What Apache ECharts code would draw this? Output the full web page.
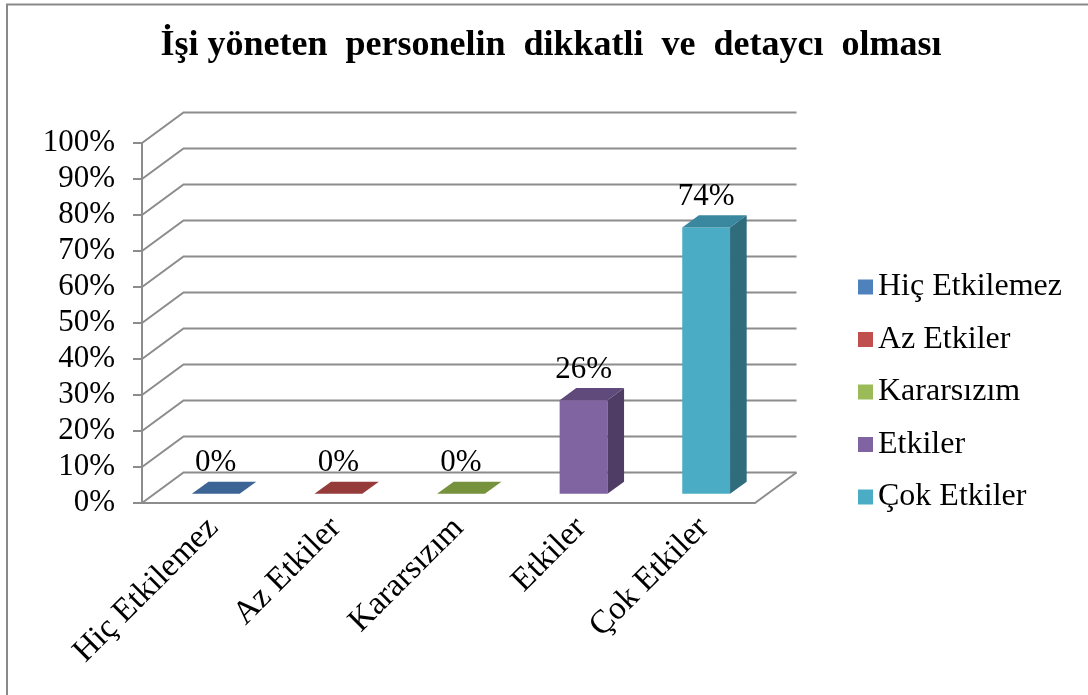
<!DOCTYPE html>
<html>
<head>
<meta charset="utf-8">
<script src="https://cdn.jsdelivr.net/npm/echarts@6/dist/echarts.min.js"></script>
<style>
html,body{margin:0;padding:0;background:#fff;}
#chart{width:1088px;height:695px;}
</style>
</head>
<body>
<div id="chart"></div>
<script>
// ---- data ----
const titleText = 'İşi yöneten  personelin  dikkatli  ve  detaycı  olması';
const categories = ['Hiç Etkilemez', 'Az Etkiler', 'Kararsızım', 'Etkiler', 'Çok Etkiler'];
const values = [0, 0, 0, 0.26, 0.74];
const yTicks = [0, 0.1, 0.2, 0.3, 0.4, 0.5, 0.6, 0.7, 0.8, 0.9, 1.0];

// ---- styles ----
const frontColors = ['#4F81BD', '#C0504D', '#9BBB59', '#8064A2', '#4BACC6'];
const topColors   = ['#3C6595', '#953B39', '#76923C', '#5F4A7B', '#3A87A0'];
const sideColors  = ['#33557E', '#7E3230', '#637B33', '#4F3D66', '#2F6C7C'];
const FONT = '"Liberation Serif", "Times New Roman", serif';
const DX = 41.5, DY = -30.5;        // floor depth vector (px)
const FRONT_F = 0.3, DEPTH_F = 0.4; // bar position inside the depth
const BAR_W = 0.39;
const GRID_COLOR = '#8c8c8c';

const chart = echarts.init(document.getElementById('chart'), null, {renderer: 'canvas'});

function pct(v) { return Math.round(v * 100) + '%'; }

const gridSeries = {
  type: 'custom',
  silent: true,
  z: 1,
  legendHoverLink: false,
  data: yTicks.map(t => [0, t]),
  renderItem: function (params, api) {
    const cs = params.coordSys;
    const t = api.value(1);
    const y = api.coord([0, t])[1];
    const x0 = cs.x, x1 = cs.x + cs.width;
    const children = [{
      type: 'polyline',
      shape: {points: [[x0, y], [x0 + DX, y + DY], [x1 + DX, y + DY]]},
      style: {stroke: GRID_COLOR, lineWidth: 2, fill: null}
    }];
    if (t === 0) {
      children.push({
        type: 'polyline',
        shape: {points: [[x1, y], [x1 + DX, y + DY]]},
        style: {stroke: GRID_COLOR, lineWidth: 2, fill: null}
      });
    }
    return {type: 'group', children: children};
  }
};

function makeBarSeries(i) {
  return {
    type: 'custom',
    name: categories[i],
    z: 3,
    itemStyle: {color: frontColors[i]},
    data: [[i, values[i]]],
    renderItem: function (params, api) {
      const idx = api.value(0), v = api.value(1);
      const base = api.coord([idx, 0]);
      const top = api.coord([idx, v]);
      const w = api.size([1, 0])[0] * BAR_W;
      const ox = DX * FRONT_F, oy = DY * FRONT_F;
      const bx = DX * DEPTH_F, by = DY * DEPTH_F;
      const xl = base[0] - w / 2 + ox, xr = base[0] + w / 2 + ox;
      const yb = base[1] + oy, yt = top[1] + oy;
      const children = [];
      if (yb - yt > 0.5) {
        children.push({type: 'polygon', shape: {points: [[xl, yt], [xr, yt], [xr, yb], [xl, yb]]},
          style: {fill: frontColors[idx]}});
        children.push({type: 'polygon', shape: {points: [[xr, yt], [xr + bx, yt + by], [xr + bx, yb + by], [xr, yb]]},
          style: {fill: sideColors[idx]}});
      }
      children.push({type: 'polygon', shape: {points: [[xl, yt], [xr, yt], [xr + bx, yt + by], [xl + bx, yt + by]]},
        style: {fill: topColors[idx]}});
      children.push({type: 'text', z2: 10,
        style: {text: pct(v), x: (xl + xr) / 2, y: yt + by - 3, align: 'center', verticalAlign: 'bottom',
          font: '31px ' + FONT, fill: '#000'}});
      return {type: 'group', children: children};
    }
  };
}

const option = {
  backgroundColor: '#ffffff',
  animation: false,
  title: {
    text: titleText,
    left: 546,
    top: 23,
    textAlign: 'center',
    textStyle: {fontFamily: FONT, fontWeight: 'bold', fontSize: 36, color: '#000'}
  },
  legend: {
    orient: 'vertical',
    left: 858,
    top: 271,
    icon: 'rect',
    itemWidth: 15,
    itemHeight: 15,
    itemGap: 20.5,
    padding: 0,
    data: categories,
    textStyle: {fontFamily: FONT, fontSize: 32, color: '#000', lineHeight: 30}
  },
  grid: {left: 142, right: 333, top: 143, bottom: 192, containLabel: false},
  xAxis: {
    type: 'category',
    data: categories,
    axisLine: {show: true, lineStyle: {color: GRID_COLOR, width: 2}},
    axisTick: {show: false},
    axisLabel: {rotate: 45, margin: 30, padding: [0, -14, 0, 0], interval: 0, fontFamily: FONT, fontSize: 33, color: '#000'},
    splitLine: {show: false}
  },
  yAxis: {
    type: 'value',
    min: 0,
    max: 1,
    interval: 0.1,
    axisLine: {show: true, lineStyle: {color: GRID_COLOR, width: 2}},
    axisTick: {show: true, length: 9, lineStyle: {color: GRID_COLOR, width: 2}},
    axisLabel: {formatter: pct, margin: 27, fontFamily: FONT, fontSize: 31, color: '#000'},
    splitLine: {show: false}
  },
  graphic: [{
    type: 'rect',
    shape: {x: 7, y: 4.5, width: 1200, height: 800},
    style: {fill: null, stroke: '#898989', lineWidth: 2},
    silent: true
  }],
  series: [gridSeries].concat(categories.map((c, i) => makeBarSeries(i)))
};

chart.setOption(option);
</script>
</body>
</html>
